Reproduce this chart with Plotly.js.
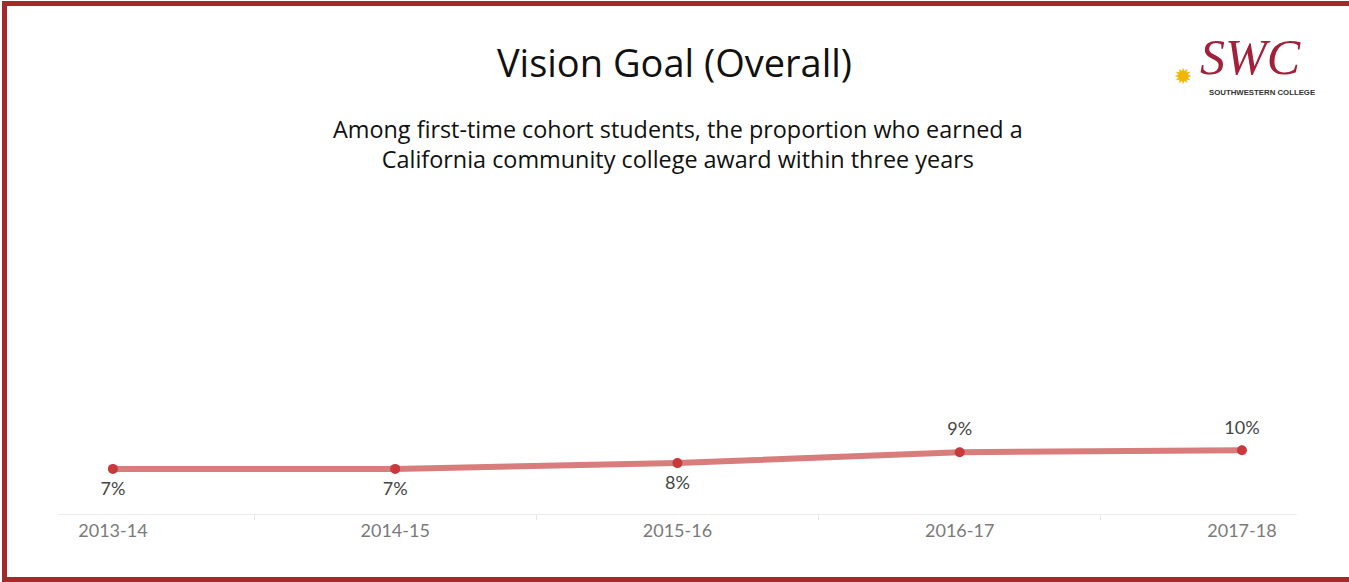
<!DOCTYPE html>
<html>
<head>
<meta charset="utf-8">
<script src="https://cdn.plot.ly/plotly-3.0.1.min.js"></script>
<style>
  html, body { margin: 0; padding: 0; background: #fff; overflow: hidden; }
  #chart { position: absolute; left: 0; top: 0; width: 1349px; height: 582px; }
  #frame { position: absolute; left: 2px; top: 1px; width: 1352px; height: 581px;
           box-sizing: border-box; border: 5px solid #A4292B; pointer-events: none; }
</style>
</head>
<body>
<div id="chart"></div>
<div id="frame"></div>
<script>
// Data
const years = ["2013-14", "2014-15", "2015-16", "2016-17", "2017-18"];
const awardRate = [6.7, 6.7, 7.6, 9.3, 9.6];   // percent
const labelPositions = ["bottom center", "bottom center", "bottom center", "top center", "top center"];

const chartTitle = "Vision Goal (Overall)";
const chartSubtitle = "Among first-time cohort students, the proportion who earned a<br>California community college award within three years";

const lineTrace = {
  type: "scatter",
  mode: "lines+markers",
  x: years,
  y: awardRate,
  line: { color: "rgba(204, 80, 80, 0.75)", width: 6 },
  marker: { color: "#C8393B", size: 10 },
  hoverinfo: "skip",
  cliponaxis: false
};

// label layer: same data, invisible larger markers push the labels away from the points
const labelTrace = {
  type: "scatter",
  mode: "markers+text",
  x: years,
  y: awardRate,
  marker: { color: "rgba(0,0,0,0)", size: 18 },
  texttemplate: "%{y:.0f}%",
  textposition: labelPositions,
  textfont: { family: "Lato, 'Open Sans', sans-serif", size: 18, color: "#444" },
  hoverinfo: "skip",
  cliponaxis: false
};

const layout = {
  width: 1349,
  height: 582,
  margin: { l: 59, r: 52, t: 194, b: 68 },
  paper_bgcolor: "#fff",
  plot_bgcolor: "#fff",
  showlegend: false,
  title: {
    text: chartTitle,
    x: 0.5, xref: "container", xanchor: "center",
    y: 1 - 64 / 582, yref: "container", yanchor: "middle",
    font: { family: "'Open Sans', sans-serif", size: 38, color: "#111" }
  },
  xaxis: {
    type: "category",
    range: [-0.191, 4.195],
    showline: true, linecolor: "#ececec", linewidth: 1,
    showgrid: false, zeroline: false,
    ticks: "outside", tickson: "boundaries", ticklen: 5, tickcolor: "#e6e6e6",
    tickfont: { family: "Lato, 'Open Sans', sans-serif", size: 18, color: "#7a7a7a" },
    fixedrange: true
  },
  yaxis: {
    range: [-0.35, 49.65],
    visible: false,
    showgrid: false, zeroline: false, fixedrange: true
  },
  annotations: [
    {
      text: chartSubtitle,
      xref: "paper", yref: "paper",
      x: 0.5, y: (514 - 144) / 320,
      xanchor: "center", yanchor: "middle",
      showarrow: false, align: "center",
      font: { family: "'Open Sans', sans-serif", size: 23.4, color: "#111" }
    },
    {
      text: "<i>SWC</i>",
      xref: "paper", yref: "paper",
      x: (1250 - 59) / 1238, y: (514 - 57) / 320,
      xanchor: "center", yanchor: "middle",
      showarrow: false,
      font: { family: "'Liberation Serif', serif", size: 50, color: "#A3203A" }
    },
    {
      text: "✹",
      xref: "paper", yref: "paper",
      x: (1183 - 59) / 1238, y: (514 - 76) / 320,
      xanchor: "center", yanchor: "middle",
      showarrow: false,
      font: { family: "'DejaVu Sans', sans-serif", size: 22, color: "#F2B705" }
    },
    {
      text: "<b>SOUTHWESTERN COLLEGE</b>",
      xref: "paper", yref: "paper",
      x: (1262 - 59) / 1238, y: (514 - 93) / 320,
      xanchor: "center", yanchor: "middle",
      showarrow: false,
      font: { family: "'Liberation Sans', sans-serif", size: 7.8, color: "#333" }
    }
  ]
};

Plotly.newPlot("chart", [lineTrace, labelTrace], layout, { displayModeBar: false, staticPlot: true });
</script>
</body>
</html>
